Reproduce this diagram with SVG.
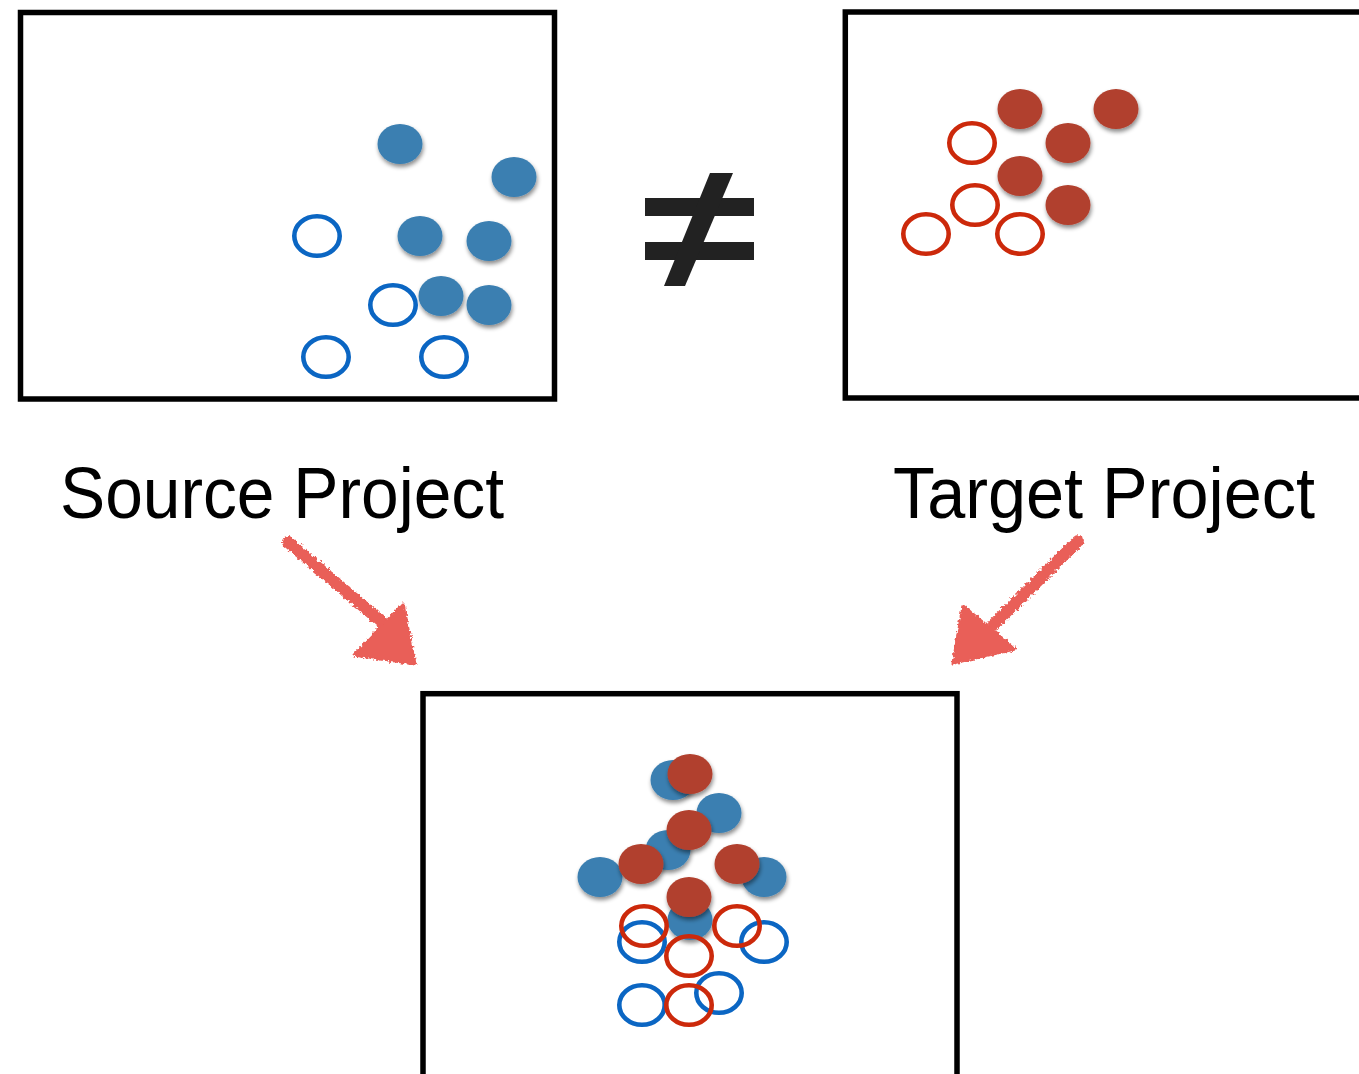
<svg xmlns="http://www.w3.org/2000/svg" width="1359" height="1074" viewBox="0 0 1359 1074">
  <style>
    .box { fill: #ffffff; stroke: #000000; stroke-width: 5.5; }
    .bf { fill: #3b7fb1; filter: url(#shadow); }
    .rf { fill: #b1402e; filter: url(#shadow); }
    .bo { fill: none; stroke: #0b66c3; stroke-width: 4.6; }
    .ro { fill: none; stroke: #cc290b; stroke-width: 4.6; }
    .label { font-family: "Liberation Sans", Arial, sans-serif; font-size: 72px; fill: #000000; }
    .arrow { fill: #e95f59; stroke: #e95f59; filter: url(#rough); }
  </style>
  <defs>
    <filter id="shadow" x="-40%" y="-40%" width="180%" height="180%">
      <feDropShadow dx="1" dy="3" stdDeviation="2.2" flood-color="#000" flood-opacity="0.45"/>
    </filter>
    <filter id="rough" x="-20%" y="-20%" width="140%" height="140%">
      <feTurbulence type="fractalNoise" baseFrequency="0.35" numOctaves="2" seed="3" result="n"/>
      <feDisplacementMap in="SourceGraphic" in2="n" scale="6" xChannelSelector="R" yChannelSelector="G"/>
    </filter>
  </defs>
  <rect width="1359" height="1074" fill="#ffffff"/>

  <g id="source-project">
    <rect class="box" x="20.5" y="12.5" width="534" height="386.5"/>
    <ellipse class="bf" cx="400" cy="144" rx="22.5" ry="20"/>
    <ellipse class="bf" cx="514" cy="177" rx="22.5" ry="20"/>
    <ellipse class="bf" cx="420" cy="236" rx="22.5" ry="20"/>
    <ellipse class="bf" cx="489" cy="241" rx="22.5" ry="20"/>
    <ellipse class="bf" cx="441" cy="296" rx="22.5" ry="20"/>
    <ellipse class="bf" cx="489" cy="305" rx="22.5" ry="20"/>
    <ellipse class="bo" cx="317" cy="236" rx="22.7" ry="19.7"/>
    <ellipse class="bo" cx="393" cy="305" rx="22.7" ry="19.7"/>
    <ellipse class="bo" cx="326" cy="357" rx="22.7" ry="19.7"/>
    <ellipse class="bo" cx="444" cy="357" rx="22.7" ry="19.7"/>
  </g>

  <g id="target-project">
    <rect class="box" x="845.3" y="12" width="540" height="386"/>
    <ellipse class="rf" cx="1020" cy="109" rx="22.5" ry="20"/>
    <ellipse class="rf" cx="1116" cy="109" rx="22.5" ry="20"/>
    <ellipse class="rf" cx="1068" cy="143" rx="22.5" ry="20"/>
    <ellipse class="rf" cx="1020" cy="176" rx="22.5" ry="20"/>
    <ellipse class="rf" cx="1068" cy="205" rx="22.5" ry="20"/>
    <ellipse class="ro" cx="972" cy="143" rx="22.7" ry="19.7"/>
    <ellipse class="ro" cx="975" cy="205" rx="22.7" ry="19.7"/>
    <ellipse class="ro" cx="926" cy="234" rx="22.7" ry="19.7"/>
    <ellipse class="ro" cx="1020" cy="234" rx="22.7" ry="19.7"/>
  </g>

  <g id="not-equal">
    <rect x="645" y="198" width="109" height="18" fill="#222222"/>
    <rect x="645" y="242" width="109" height="18" fill="#222222"/>
    <polygon points="710,173 733,173 685,286 664,286" fill="#222222"/>
  </g>

  <g id="source-label">
    <text class="label" x="60" y="518" textLength="444" lengthAdjust="spacingAndGlyphs">Source Project</text>
  </g>
  <g id="target-label">
    <text class="label" x="893" y="518" textLength="422" lengthAdjust="spacingAndGlyphs">Target Project</text>
  </g>

  <g id="connectors">
    <g id="arrow-source">
      <line x1="288" y1="542" x2="384" y2="624" stroke="#e95f59" stroke-width="12" stroke-linecap="round" filter="url(#rough)"/>
      <polygon class="arrow" stroke-width="3" stroke-linejoin="round" points="403,604 354,655 415,664"/>
    </g>
    <g id="arrow-target">
      <line x1="1078" y1="541" x2="994" y2="624" stroke="#e95f59" stroke-width="12" stroke-linecap="round" filter="url(#rough)"/>
      <polygon class="arrow" stroke-width="3" stroke-linejoin="round" points="963,606 1015,649 953,663"/>
    </g>
  </g>

  <g id="merged-project">
    <rect class="box" x="423" y="693.7" width="534" height="420"/>
    <ellipse class="bf" cx="673" cy="780" rx="22.5" ry="20"/>
    <ellipse class="bf" cx="719" cy="813" rx="22.5" ry="20"/>
    <ellipse class="bf" cx="668" cy="850" rx="22.5" ry="20"/>
    <ellipse class="bf" cx="600" cy="877" rx="22.5" ry="20"/>
    <ellipse class="bf" cx="764" cy="877" rx="22.5" ry="20"/>
    <ellipse class="bf" cx="690" cy="920" rx="22.5" ry="20"/>
    <ellipse class="rf" cx="690" cy="774" rx="22.5" ry="20"/>
    <ellipse class="rf" cx="689" cy="830" rx="22.5" ry="20"/>
    <ellipse class="rf" cx="641" cy="864" rx="22.5" ry="20"/>
    <ellipse class="rf" cx="737" cy="864" rx="22.5" ry="20"/>
    <ellipse class="rf" cx="689" cy="897" rx="22.5" ry="20"/>
    <ellipse class="bo" cx="642" cy="942" rx="22.7" ry="19.7"/>
    <ellipse class="bo" cx="764" cy="942" rx="22.7" ry="19.7"/>
    <ellipse class="bo" cx="719" cy="993" rx="22.7" ry="19.7"/>
    <ellipse class="bo" cx="642" cy="1005" rx="22.7" ry="19.7"/>
    <ellipse class="ro" cx="644" cy="926" rx="22.7" ry="19.7"/>
    <ellipse class="ro" cx="737" cy="926" rx="22.7" ry="19.7"/>
    <ellipse class="ro" cx="689" cy="956" rx="22.7" ry="19.7"/>
    <ellipse class="ro" cx="689" cy="1005" rx="22.7" ry="19.7"/>
  </g>
</svg>
